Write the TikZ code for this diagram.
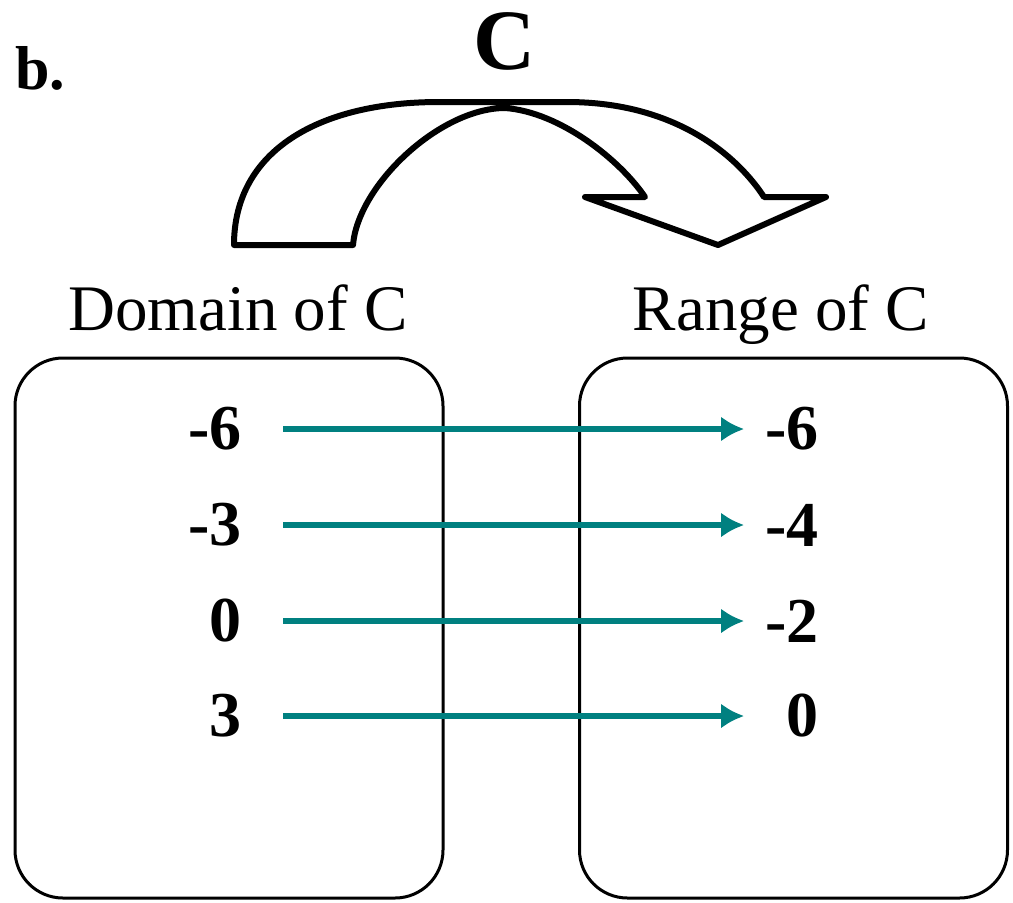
\documentclass[tikz,border=0pt]{standalone}
\usepackage{fontspec}
\setmainfont{Liberation Serif}
\usetikzlibrary{arrows.meta}
\begin{document}
\begin{tikzpicture}[x=0.5pt, y=-0.5pt, >={Latex[length=11.5pt,width=12.5pt]},
  setbox/.style={draw, line width=1.5pt, rounded corners=24pt, minimum width=214pt, minimum height=270pt},
  num/.style={font=\bfseries\fontsize{32}{32}\selectfont, inner sep=0pt, text width=27pt, align=right, anchor=east},
  map/.style={->, draw=teal, line width=3.25pt, shorten <=20.5pt, shorten >=10pt},
  title/.style={font=\fontsize{32.5}{34}\selectfont, anchor=base}]
  \useasboundingbox (0,0) rectangle (1013,902);
  \node[font=\bfseries\fontsize{31}{32}\selectfont, anchor=base west, inner sep=0pt] (lbl) at (15,89) {b.};
  \node[font=\bfseries\fontsize{43}{44}\selectfont, inner sep=0pt] (fname) at (505,41) {C};
  % curved arrow
  \draw[line width=3pt, line join=round, line cap=round]
    (234,245) -- (353,245) .. controls (358,185) and (440,108) .. (505,108)
    .. controls (560,112) and (620,160) .. (645,197) -- (585,197) -- (718,245)
    -- (826,197) -- (764,197) .. controls (740,160) and (680,102) .. (567,102)
    -- (439,102) .. controls (320,102) and (234,150) .. cycle;
  \node[title] (dlbl) at (238,330) {Domain of C};
  \node[title] (rlbl) at (781,330) {Range of C};
  \node[setbox] (dom) at (229,628) {};
  \node[setbox] (ran) at (793.5,628) {};
  \node[num] (d1) at (242,429) {-6};
  \node[num] (d2) at (242,525) {-3};
  \node[num] (d3) at (242,621) {0};
  \node[num] (d4) at (242,716) {3};
  \node[num] (r1) at (819,429) {-6};
  \node[num] (r2) at (819,525) {-4};
  \node[num] (r3) at (819,621) {-2};
  \node[num] (r4) at (819,716) {0};
  \foreach \i in {1,...,4}
    \draw[map] (d\i.east) -- (r\i.west);
\end{tikzpicture}
\end{document}
